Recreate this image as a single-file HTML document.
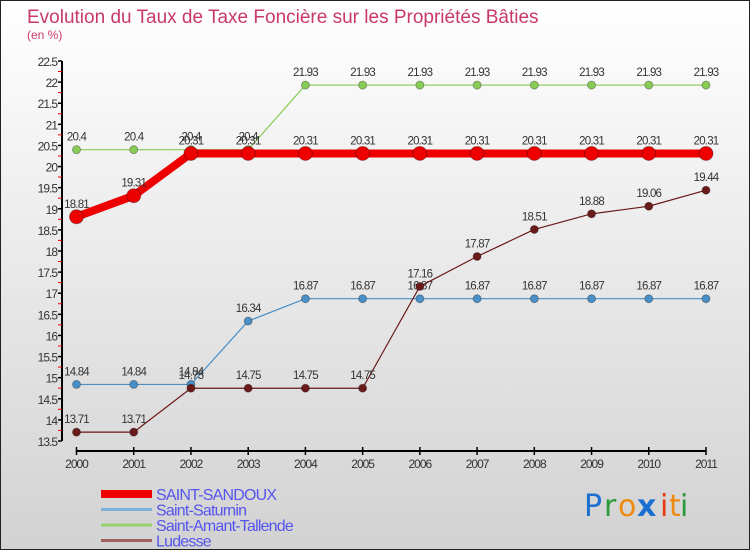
<!DOCTYPE html>
<html><head><meta charset="utf-8"><style>
body{margin:0;}
#wrap{position:relative;width:750px;height:550px;overflow:hidden;background:linear-gradient(#ffffff,#d2d2d2);font-family:"Liberation Sans",sans-serif;box-sizing:border-box;border:1px solid #222;}
svg{position:absolute;left:0;top:0;}
</style></head><body>
<div id="wrap">
<svg id="chart" width="750" height="550">
<text x="26" y="22" font-size="19" fill="#c8386a">Evolution du Taux de Taxe Foncière sur les Propriétés Bâties</text>
<text x="26" y="38" font-size="12" fill="#c8386a">(en %)</text>
<g id="axes"></g><g id="series"></g><g id="legend"></g>
<g font-family="'DejaVu Sans',sans-serif" font-size="30">
<text x="583" y="515" fill="#1a6fd0">P</text><text x="603" y="515" fill="#2a9a3a">r</text><text x="617" y="515" fill="#f08a10">o</text><text x="636" y="515" fill="#1a6fd0" font-weight="bold">x</text><text x="659" y="515" fill="#e83a10">i</text><text x="668" y="515" fill="#f08a10">t</text><text x="679" y="515" fill="#2a9a3a">i</text>
</g>
</svg>
</div>
<script>
const years=[2000,2001,2002,2003,2004,2005,2006,2007,2008,2009,2010,2011];
const yTicks=[13.5,14,14.5,15,15.5,16,16.5,17,17.5,18,18.5,19,19.5,20,20.5,21,21.5,22,22.5];
const saintSandoux=[18.81,19.31,20.31,20.31,20.31,20.31,20.31,20.31,20.31,20.31,20.31,20.31];
const saintSaturnin=[14.84,14.84,14.84,16.34,16.87,16.87,16.87,16.87,16.87,16.87,16.87,16.87];
const saintAmant=[20.4,20.4,20.4,20.4,21.93,21.93,21.93,21.93,21.93,21.93,21.93,21.93];
const ludesse=[13.71,13.71,14.75,14.75,14.75,14.75,17.16,17.87,18.51,18.88,19.06,19.44];
const seriesNames=["SAINT-SANDOUX","Saint-Saturnin","Saint-Amant-Tallende","Ludesse"];

const NS="http://www.w3.org/2000/svg";
const x0=75.5,x1=705,yTop=60,yBot=440,vMin=13.5,vMax=22.5;
function xs(i){return x0+(x1-x0)*i/(years.length-1);}
function ys(v){return yBot-(v-vMin)/(vMax-vMin)*(yBot-yTop);}
function mk(tag,attrs,parent){const e=document.createElementNS(NS,tag);for(const k in attrs)e.setAttribute(k,attrs[k]);parent.appendChild(e);return e;}
const axes=document.getElementById('axes');
let yl=mk('line',{x1:61,y1:yTop,x2:61,y2:yBot,stroke:'#000','stroke-width':2},axes);


yTicks.forEach((v,k)=>{
  mk('line',{x1:57,y1:ys(v),x2:61,y2:ys(v),stroke:'#000','stroke-width':1.5},axes);
  if(k>0) mk('line',{x1:57,y1:ys(v)+10.5,x2:61,y2:ys(v)+10.5,stroke:'#e00','stroke-width':1},axes);
  const t=mk('text',{x:56,y:ys(v)+5,'text-anchor':'end','font-size':12,fill:'#333','letter-spacing':'-1'},axes);
  t.textContent=String(v);
  
  
});
let xl=mk('line',{x1:x0,y1:450,x2:x1,y2:450,stroke:'#000','stroke-width':2},axes);


years.forEach((y,i)=>{
  mk('line',{x1:xs(i),y1:446,x2:xs(i),y2:454,stroke:'#000','stroke-width':1.5},axes);
  const t=mk('text',{x:xs(i),y:467,'text-anchor':'middle','font-size':12,fill:'#333','letter-spacing':'-1'},axes);
  t.textContent=y;
  
  
});
const sg=document.getElementById('series');
function draw(data,color,width,r,name){
  const g=mk('g',{},sg);
  
  
  mk('polyline',{points:data.map((v,i)=>xs(i)+','+ys(v)).join(' '),fill:'none',stroke:color,'stroke-width':width,'stroke-linejoin':'round'},g);
  data.forEach((v,i)=>{
    const c=mk('circle',{cx:xs(i),cy:ys(v),r:r,fill:color,stroke:'rgba(0,0,0,0.3)','stroke-width':1},g);
    
    
    const t=mk('text',{x:xs(i),y:ys(v)-9,'text-anchor':'middle','font-size':11.5,fill:'#333','letter-spacing':'-0.8'},g);
    t.textContent=String(v);
    
    
  });
}
draw(saintAmant,'#88cc55',1.2,4,'series-saint-amant-tallende');
draw(saintSaturnin,'#4a90c8',1.2,4,'series-saint-saturnin');
draw(ludesse,'#6b1a1a',1.2,4,'series-ludesse');
draw(saintSandoux,'#ee0000',8,7,'series-saint-sandoux');
const lg=document.getElementById('legend');
const lcol=['#ee0000','#7fb0d8','#99d070','#a06060'],lw=[8,3,3,3];
seriesNames.forEach((n,i)=>{
  const y=493+i*15.5;
  const g=mk('g',{},lg);
  
  
  mk('line',{x1:100,y1:y,x2:151,y2:y,stroke:lcol[i],'stroke-width':lw[i]},g);
  const t=mk('text',{x:155,y:y+6,'font-size':16,fill:'#5555ee','letter-spacing':'-0.8'},g);
  t.textContent=n;
});
</script>
</body></html>
